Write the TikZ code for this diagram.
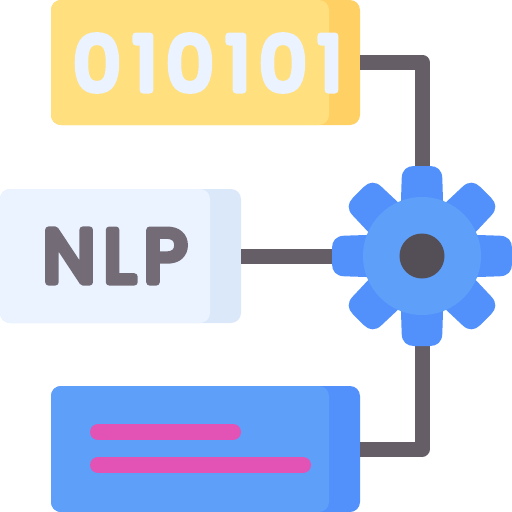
\documentclass[tikz,border=0pt]{standalone}
\usepackage{fontspec}
\newfontfamily\glyphfont[FakeBold=9]{Poppins}
\definecolor{yellowfront}{HTML}{FFDF7E}
\definecolor{yellowback}{HTML}{FFD064}
\definecolor{palefront}{HTML}{EAF3FF}
\definecolor{paleback}{HTML}{DBE8FA}
\definecolor{bluefront}{HTML}{5E9FF9}
\definecolor{blueback}{HTML}{5291FC}
\definecolor{wire}{HTML}{655E67}
\definecolor{hub}{HTML}{544F57}
\definecolor{letter}{HTML}{736C77}
\definecolor{pinkbar}{HTML}{E253B5}
\tikzset{
  x=1pt,y=-1pt,
  panel/.style={rectangle,rounded corners=10pt,inner sep=0pt,outer sep=0pt,minimum height=#1},
  wirepath/.style={draw=wire,line width=15pt,line join=round},
  digit/.style={inner sep=0pt,outer sep=0pt,text=palefront,font=\glyphfont\special{pdf:code 1 j 1 J}\fontsize{75}{75}\selectfont},
  capital/.style={inner sep=0pt,outer sep=0pt,text=letter,font=\glyphfont\special{pdf:code 1 j 1 J}\fontsize{75}{75}\selectfont},
  textbar/.style={draw=pinkbar,line width=16pt,line cap=round},
}
\newcommand{\gearTooth}[1]{%
  \fill[blueback,rotate around={#1:(gear)}]
    ([shift={(-21.5,-40)}]gear)
    -- ([shift={(-20.3,-78)}]gear)
    .. controls ([shift={(-20,-86)}]gear) and ([shift={(-15,-90)}]gear) .. ([shift={(-8,-90)}]gear)
    -- ([shift={(8,-90)}]gear)
    .. controls ([shift={(15,-90)}]gear) and ([shift={(20,-86)}]gear) .. ([shift={(20.3,-78)}]gear)
    -- ([shift={(21.5,-40)}]gear) -- cycle;}
\begin{document}
\begin{tikzpicture}
\useasboundingbox (0,0) rectangle (512,512);
\coordinate (gear) at (422,256);
\coordinate (topbend) at (422,62);
\coordinate (bottombend) at (422,449);
\node[panel=125pt,fill=yellowback,minimum width=309pt] (topback) at (205.5,62.5) {};
\node[panel=134pt,fill=paleback,minimum width=241pt] (midback) at (120.5,256) {};
\node[panel=126pt,fill=blueback,minimum width=309pt] (botback) at (205.5,449) {};
\draw[wirepath] (topback.east |- topbend) -- (topbend) -- (gear);
\draw[wirepath] (botback.east |- bottombend) -- (bottombend) -- (gear);
\draw[wirepath] (midback.east) -- (gear);
\node[panel=125pt,fill=yellowfront,minimum width=278pt] (topfront) at (190,62.5) {};
\node[panel=134pt,fill=palefront,minimum width=210pt] (midfront) at (105,256) {};
\node[panel=126pt,fill=bluefront,minimum width=278pt] (botfront) at (190,449) {};
\gearTooth{0}\gearTooth{45}\gearTooth{90}\gearTooth{135}
\gearTooth{180}\gearTooth{225}\gearTooth{270}\gearTooth{315}
\node[circle,fill=bluefront,minimum size=118pt,inner sep=0pt] (gearbody) at (gear) {};
\node[circle,fill=hub,minimum size=45pt,inner sep=0pt] (gearhub) at (gear) {};
\node[digit] (d1) at (97,63) {0};
\node[digit] (d2) at (145,63) {1};
\node[digit] (d3) at (190,63) {0};
\node[digit] (d4) at (238,63) {1};
\node[digit] (d5) at (283,63) {0};
\node[digit] (d6) at (330,63) {1};
\node[capital] (nlp) at (115,256) {N\kern8pt L\kern8pt P};
\coordinate (a1) at (98,432); \coordinate (a2) at (233,432);
\coordinate (b1) at (98,465); \coordinate (b2) at (303,465);
\draw[textbar] (a1) -- (a2);
\draw[textbar] (b1) -- (b2);
\end{tikzpicture}
\end{document}
